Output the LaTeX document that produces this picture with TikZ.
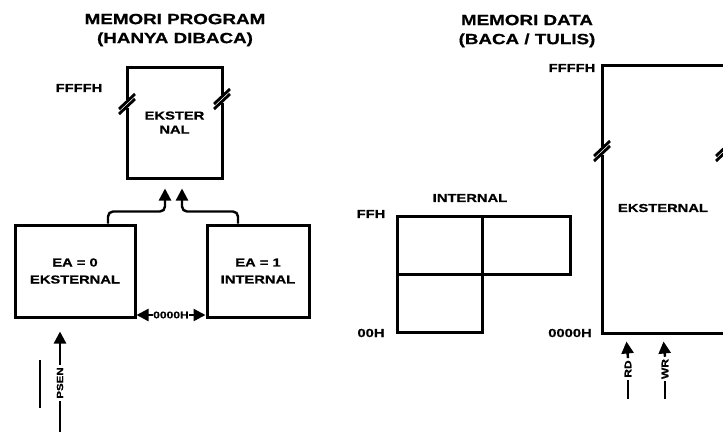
\documentclass[tikz,border=0pt]{standalone}
\usepackage{fontspec}
\newfontfamily\lab{Liberation Sans}[FakeStretch=1.27, BoldFeatures={FakeBold=0.7}]
\usetikzlibrary{arrows.meta,calc}
\tikzset{
  box/.style={draw, line width=3pt, inner sep=0pt, align=center},
  conn/.style={line width=2.4pt},
  arr/.style={conn, -{Triangle[length=12pt,width=12pt]}},
  title/.style={font=\lab\bfseries\fontsize{14.8}{19}\selectfont, align=center, inner sep=0pt},
  lbl/.style={font=\lab\bfseries\fontsize{11.6}{14}\selectfont, inner sep=1pt, align=center},
  boxtxt/.style={font=\lab\bfseries\fontsize{11.6}{17}\selectfont},
  small/.style={font=\lab\bfseries\fontsize{9.5}{10}\selectfont, inner sep=0.5pt, fill=white},
  brk/.pic={
    \fill[white] (-2.4,-3.6) rectangle (2.4,3.6);
    \draw[line width=2.8pt] (-8,5) -- (8,-10);
    \draw[line width=2.8pt] (-8,10) -- (8,-5);
  }
}
\begin{document}
\begin{tikzpicture}[x=1pt,y=-1pt]
\useasboundingbox (0,0) rectangle (723,432);
\clip (0,0) rectangle (723,432);

% titles
\node[title] (t1) at (175,30) {MEMORI PROGRAM\\(HANYA DIBACA)};
\node[title] (t2) at (527,31) {MEMORI DATA\\(BACA / TULIS)};

% program memory
\node[box, minimum width=95pt, minimum height=111pt, font=\lab\bfseries\fontsize{11.6}{14}\selectfont] (pext) at (174.5,122.5) {EKSTER\\NAL};
\pic at (127,104) {brk};
\pic at (222,99) {brk};
\node[lbl] (ffffh1) at (79,88) {FFFFH};

\node[box, minimum width=120pt, minimum height=92pt, boxtxt] (ea0) at (75,271) {EA = 0\\EKSTERNAL};
\node[box, minimum width=102pt, minimum height=92pt, boxtxt] (ea1) at (258,271) {EA = 1\\INTERNAL};

\draw[arr, rounded corners=5pt] ([xshift=33pt]ea0.north) -- ++(0,-12) -| ([xshift=-9.5pt,yshift=-9pt]pext.south);
\draw[arr, rounded corners=5pt] ([xshift=-20pt]ea1.north) -- ++(0,-12) -| ([xshift=7.5pt,yshift=-9pt]pext.south);

\node[small] (z0) at (171,315) {0000H};
\draw[arr] (z0.west) -- (z0.west -| ea0.east);
\draw[arr] (z0.east) -- (z0.east -| ea1.west);

% PSEN
\node[lbl, rotate=90, font=\lab\bfseries\fontsize{9}{10}\selectfont, inner sep=2pt] (psen) at (60,383) {PSEN};
\coordinate (psenb) at (60,432);
\draw[conn] (psenb) -- (psen.west);
\draw[arr] (psen.east) -- ([xshift=-15pt,yshift=-13pt]ea0.south);
\draw[line width=2pt] ($(psen.center)+(-20,-23)$) -- ($(psen.center)+(-20,25)$);

% data memory internal
\node[lbl] (intl) at (470,198) {INTERNAL};
\node[box, minimum width=85pt, minimum height=58pt] (iul) at (439.5,245) {};
\node[box, minimum width=88pt, minimum height=58pt] (iur) at (526,245) {};
\node[box, minimum width=85pt, minimum height=58pt] (ill) at (439.5,303) {};
\node[lbl] (ffh) at (371,214) {FFH};
\node[lbl] (ooh) at (371,333) {00H};

% data memory external
\node[box, minimum width=122pt, minimum height=268pt] (dext) at (663,199) {};
\node[lbl] (dextl) at (663,208) {EKSTERNAL};
\pic at (602,151) {brk};
\pic at (724,151) {brk};
\node[lbl] (ffffh2) at (572,68) {FFFFH};
\node[lbl] (oooh2) at (570,333) {0000H};

% RD / WR
\node[lbl, rotate=90, font=\lab\bfseries\fontsize{9.5}{10}\selectfont, inner sep=2pt] (rd) at (628,369) {RD};
\node[lbl, rotate=90, font=\lab\bfseries\fontsize{9.5}{10}\selectfont, inner sep=2pt] (wr) at (665,369) {WR};
\coordinate (rdb) at (628,399);
\coordinate (wrb) at (665,399);
\draw[conn] (rdb) -- (rd.west);
\draw[conn] (wrb) -- (wr.west);
\draw[arr] (rd.east) -- ([xshift=26pt,yshift=-7pt]dext.south west);
\draw[arr] (wr.east) -- ([xshift=63pt,yshift=-7pt]dext.south west);
\end{tikzpicture}
\end{document}
